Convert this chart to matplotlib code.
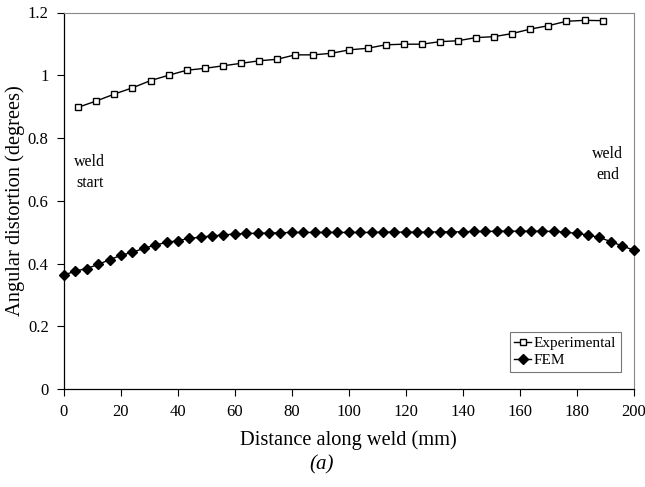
import matplotlib
matplotlib.use("Agg")
import matplotlib.pyplot as plt

plt.rcParams['font.family'] = ['Liberation Serif', 'DejaVu Serif']

exp_x = [5.0, 11.35, 17.7, 24.05, 30.4, 36.75, 43.1, 49.45, 55.8, 62.15,
         68.5, 74.85, 81.2, 87.55, 93.9, 100.25, 106.6, 112.95, 119.3, 125.65,
         132.0, 138.35, 144.7, 151.05, 157.4, 163.75, 170.1, 176.45, 182.8, 189.15]
exp_y = [0.898, 0.918, 0.940, 0.960, 0.983, 1.000, 1.016, 1.022, 1.030, 1.038,
         1.046, 1.051, 1.065, 1.065, 1.070, 1.081, 1.086, 1.097, 1.099, 1.099,
         1.107, 1.110, 1.120, 1.123, 1.133, 1.147, 1.158, 1.172, 1.175, 1.174]

fem_x = [0, 4, 8, 12, 16, 20, 24, 28, 32, 36, 40, 44, 48, 52, 56, 60, 64, 68,
         72, 76, 80, 84, 88, 92, 96, 100, 104, 108, 112, 116, 120, 124, 128,
         132, 136, 140, 144, 148, 152, 156, 160, 164, 168, 172, 176, 180, 184,
         188, 192, 196, 200]
fem_y = [0.363, 0.376, 0.384, 0.397, 0.412, 0.426, 0.436, 0.448, 0.459, 0.467,
         0.473, 0.480, 0.484, 0.488, 0.491, 0.494, 0.496, 0.496, 0.497, 0.498,
         0.499, 0.499, 0.499, 0.499, 0.499, 0.499, 0.499, 0.499, 0.500, 0.500,
         0.500, 0.500, 0.500, 0.501, 0.501, 0.501, 0.502, 0.502, 0.503, 0.503,
         0.503, 0.503, 0.503, 0.502, 0.500, 0.496, 0.491, 0.483, 0.470, 0.456,
         0.443]

x_ticks = [0, 20, 40, 60, 80, 100, 120, 140, 160, 180, 200]
y_ticks = [0, 0.2, 0.4, 0.6, 0.8, 1.0, 1.2]
y_tick_labels = ["0", "0.2", "0.4", "0.6", "0.8", "1", "1.2"]

fig = plt.figure(figsize=(6.45, 4.87), dpi=100)
ax = fig.add_axes([64/645, 1-389/487, (633.5-64)/645, (389-12.5)/487])

ax.plot(exp_x, exp_y, color='black', lw=1.0, marker='s', markersize=5,
        markerfacecolor='white', markeredgecolor='black', markeredgewidth=1.0,
        label='Experimental', clip_on=False, zorder=3)
ax.plot(fem_x, fem_y, color='black', lw=1.0, marker='D', markersize=5,
        markerfacecolor='black', markeredgecolor='black',
        label='FEM', clip_on=False, zorder=3)

ax.set_xlim(0, 200)
ax.set_ylim(0, 1.2)
ax.set_xticks(x_ticks)
ax.set_xticklabels([str(v) for v in x_ticks])
ax.set_yticks(y_ticks)
ax.set_yticklabels(y_tick_labels)
ax.tick_params(direction='out', length=5, width=0.8, labelsize=12, pad=6,
               top=False, right=False)

for s in ['top', 'right']:
    ax.spines[s].set_color('#888888')
    ax.spines[s].set_linewidth(0.8)
for s in ['left', 'bottom']:
    ax.spines[s].set_color('black')
    ax.spines[s].set_linewidth(0.9)

ax.set_xlabel('Distance along weld (mm)', fontsize=14.7, labelpad=7)
ax.set_ylabel('Angular distortion (degrees)', fontsize=14.7)
ax.yaxis.set_label_coords((25-64)/569.5, 0.5)

ax.text(9, 0.69, 'weld\nstart', ha='center', va='center', fontsize=11.5,
        multialignment='center', linespacing=1.4)
ax.text(191, 0.715, 'weld\nend', ha='center', va='center', fontsize=11.5,
        multialignment='center', linespacing=1.4)

leg = ax.legend(loc='lower right', bbox_to_anchor=(0.978, 0.045), fontsize=11,
                frameon=True, fancybox=False, framealpha=1, edgecolor='#777777',
                handlelength=1.1, handletextpad=0.2, borderpad=0.3,
                labelspacing=0.25, borderaxespad=0)
leg.get_frame().set_linewidth(0.8)

fig.text(322/645, 1-465/487, '(a)', ha='center', va='center', fontsize=15,
         style='italic')

fig.savefig('out.png', dpi=100)
